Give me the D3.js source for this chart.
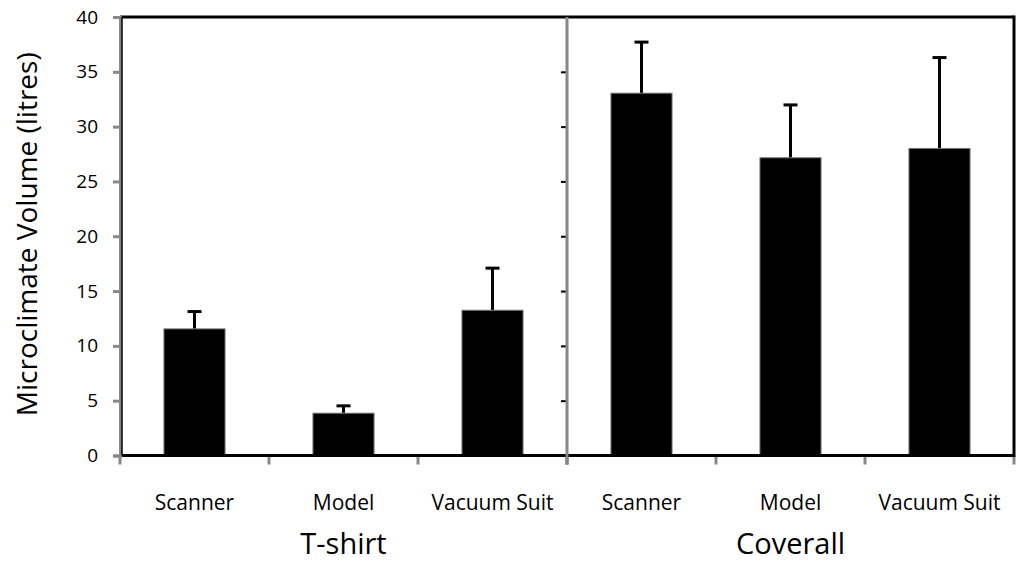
<html>
<head>
  <style>
    body { margin: 0; background: #fff; }
    text { font-family: "Open Sans", sans-serif; fill: #000; }
  </style>
  <script src="https://d3js.org/d3.v7.min.js"></script>
</head>
<body>
<svg id="chart" width="1017" height="563"></svg>
<script>
// data
var groups = ["T-shirt", "Coverall"];
var categories = ["Scanner", "Model", "Vacuum Suit"];
var tshirtMean = [11.55, 3.86, 13.25];
var tshirtErr  = [1.58, 0.67, 3.84];
var coverallMean = [33.05, 27.16, 28.01];
var coverallErr  = [4.66, 4.82, 8.29];
var yTicks = [0, 5, 10, 15, 20, 25, 30, 35, 40];

var svg = d3.select("#chart");
var pLeft = 120, pMid = 567, pRight = 1014, pTop = 17, pBottom = 455.5;

var y = d3.scaleLinear().domain([0, 40]).range([pBottom, pTop]);
var xPanels = [
  d3.scaleBand().domain(categories).range([pLeft, pMid]).paddingInner(0.59).paddingOuter(0.295),
  d3.scaleBand().domain(categories).range([pMid, pRight]).paddingInner(0.59).paddingOuter(0.295)
];
var means = [tshirtMean, coverallMean];
var errs = [tshirtErr, coverallErr];

// bars + error bars
xPanels.forEach(function(x, p) {
  var g = svg.append("g");
  var rows = categories.map(function(c, i) { return {cat: c, v: means[p][i], e: errs[p][i]}; });
  g.selectAll("line.err")
    .data(rows).enter().append("line")
    .attr("x1", function(d) { return x(d.cat) + x.bandwidth() / 2; })
    .attr("x2", function(d) { return x(d.cat) + x.bandwidth() / 2; })
    .attr("y1", function(d) { return y(d.v); })
    .attr("y2", function(d) { return y(d.v + d.e); })
    .attr("stroke", "#000").attr("stroke-width", 3);
  g.selectAll("line.cap")
    .data(rows).enter().append("line")
    .attr("x1", function(d) { return x(d.cat) + x.bandwidth() / 2 - 7; })
    .attr("x2", function(d) { return x(d.cat) + x.bandwidth() / 2 + 7; })
    .attr("y1", function(d) { return y(d.v + d.e); })
    .attr("y2", function(d) { return y(d.v + d.e); })
    .attr("stroke", "#000").attr("stroke-width", 3);
  g.selectAll("rect")
    .data(rows).enter().append("rect")
    .attr("x", function(d) { return x(d.cat); })
    .attr("y", function(d) { return y(d.v); })
    .attr("width", x.bandwidth())
    .attr("height", function(d) { return y(0) - y(d.v); })
    .attr("fill", "#000").attr("stroke", "#777").attr("stroke-width", 1);

  // category ticks (between bands)
  var edges = categories.map(function(c) { return x(c) - x.step() * x.paddingInner() / 2; });
  edges.push(x.range()[1]);
  g.selectAll("line.xt")
    .data(edges).enter().append("line")
    .attr("x1", function(d) { return d; }).attr("x2", function(d) { return d; })
    .attr("y1", pBottom).attr("y2", pBottom + 9)
    .attr("stroke", "#888").attr("stroke-width", 3);

  g.selectAll("text.cat")
    .data(categories).enter().append("text")
    .attr("x", function(d) { return x(d) + x.bandwidth() / 2; })
    .attr("y", 510)
    .attr("text-anchor", "middle")
    .attr("font-size", "21px")
    .text(function(d) { return d; });

  g.append("text")
    .attr("x", (x.range()[0] + x.range()[1]) / 2)
    .attr("y", 554)
    .attr("text-anchor", "middle")
    .attr("font-size", "29px")
    .text(groups[p]);
});

// frame
svg.append("line").attr("x1", pLeft).attr("x2", pRight).attr("y1", pTop).attr("y2", pTop)
  .attr("stroke", "#000").attr("stroke-width", 3);
svg.append("line").attr("x1", pLeft).attr("x2", pRight).attr("y1", pBottom).attr("y2", pBottom)
  .attr("stroke", "#000").attr("stroke-width", 3);
svg.append("line").attr("x1", pRight).attr("x2", pRight).attr("y1", pTop - 1.5).attr("y2", pBottom + 1.5)
  .attr("stroke", "#000").attr("stroke-width", 3);

// left y axis
var yAxis = d3.axisLeft(y).tickValues(yTicks).tickSize(7).tickPadding(15);
var ga = svg.append("g").attr("transform", "translate(" + pLeft + ",0)").call(yAxis);
ga.select(".domain").attr("stroke", "#888").attr("stroke-width", 3);
ga.selectAll(".tick line").attr("stroke", "#888").attr("stroke-width", 3);
ga.selectAll(".tick text").attr("font-size", "19px").attr("fill", "#000")
  .style("font-family", "'Open Sans', sans-serif");
svg.append("line").attr("x1", pLeft + 2).attr("x2", pLeft + 2).attr("y1", pTop).attr("y2", pBottom)
  .attr("stroke", "#000").attr("stroke-width", 1.5);

// divider axis between panels
var midAxis = d3.axisLeft(y).tickValues(yTicks.slice(1, -1)).tickSize(6).tickFormat("");
var gm = svg.append("g").attr("transform", "translate(" + pMid + ",0)").call(midAxis);
gm.select(".domain").remove();
gm.selectAll(".tick line").attr("stroke", "#000").attr("stroke-width", 2);
svg.append("line").attr("x1", pMid).attr("x2", pMid).attr("y1", pTop).attr("y2", pBottom + 9)
  .attr("stroke", "#888").attr("stroke-width", 3);

// y title
svg.append("text")
  .attr("transform", "translate(37," + (y(20) - 2) + ") rotate(-90)")
  .attr("text-anchor", "middle")
  .attr("font-size", "28px")
  .text("Microclimate Volume (litres)");
</script>
</body>
</html>
